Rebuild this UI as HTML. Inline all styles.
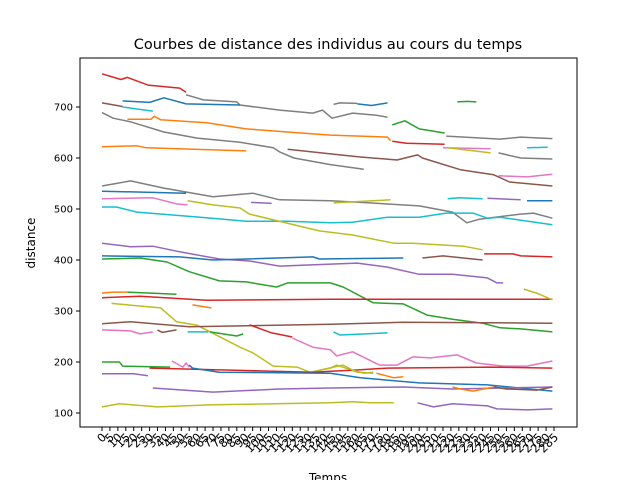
<!DOCTYPE html>
<html><head><meta charset="utf-8"><style>
body{margin:0;background:#fff}
svg text{font-family:"DejaVu Sans","Liberation Sans",sans-serif;fill:#000}
</style></head><body>
<svg id="chart" width="640" height="480" viewBox="0 0 640 480" xmlns="http://www.w3.org/2000/svg">
<rect width="640" height="480" fill="#fff"/>
<text x="328" y="49" font-size="14.5" text-anchor="middle">Courbes de distance des individus au cours du temps</text>
<text x="35" y="243" font-size="12" text-anchor="middle" transform="rotate(-90 35 243)">distance</text>
<text x="328" y="482" font-size="12" text-anchor="middle">Temps</text>
<g id="plot"></g>
<rect x="80" y="58" width="497" height="369" fill="none" stroke="#000" stroke-width="1"/>
<g id="axes"></g>
</svg>
<script>
const yTicks=[100,200,300,400,500,600,700];
const xTicks=[];for(let i=0;i<=285;i+=5)xTicks.push(i);
const seriesColors=["#d62728","#7f7f7f","#1f77b4","#7f7f7f","#1f77b4","#8c564b","#17becf","#7f7f7f","#ff7f0e","#ff7f0e","#8c564b","#2ca02c","#2ca02c","#d62728","#7f7f7f","#e377c2","#bcbd22","#17becf","#7f7f7f","#e377c2","#7f7f7f","#1f77b4","#e377c2","#17becf","#bcbd22","#9467bd","#bcbd22","#17becf","#9467bd","#1f77b4","#9467bd","#1f77b4","#8c564b","#d62728","#2ca02c","#ff7f0e","#2ca02c","#d62728","#bcbd22","#ff7f0e","#bcbd22","#8c564b","#e377c2","#8c564b","#17becf","#2ca02c","#d62728","#e377c2","#17becf","#2ca02c","#d62728","#e377c2","#1f77b4","#9467bd","#bcbd22","#ff7f0e","#9467bd","#ff7f0e","#8c564b","#bcbd22","#9467bd"];
const seriesTimes=[
[0,12,16,29,49,53],[53,64,85,87,112,133,139,145,158,173,180],[13,30,39,53,87],[146,150,161],[161,170,180],[0,13],[13,32],
[0,7,18,39,60,87,108,112,121,144,165],[16,31,33,37,66,91,117,144,180,182],[0,22,28,91],[117,144,163,186,199,202,226,247,257,284],
[183,191,200,216],[224,230,236],[183,192,216],[217,251,264,284],[215,245],[218,245],[268,281],[250,264,284],[250,268,284],
[0,18,39,70,95,112,144,169,200,221,230,238,264,272,284],[0,53],[0,32,47,54],
[0,9,22,62,91,117,144,158,180,200,217,234,243,251,284],[54,70,87,93,137,158,184,196,228,240],[94,107],[146,182],[218,225,240],[243,264],[268,284],
[0,18,32,49,74,93,112,144,161,180,200,221,243,249,253],[0,49,70,133,137,190],[202,215,240],[241,259,264,284],
[0,24,41,55,74,91,110,117,144,152,171,190,205,221,240,251,264,284],[0,7,16],[16,47],[0,24,66,144,284],[266,274,284],[57,69],
[6,37,47,60,87,95,108,123,131,144,148,161,171],[0,18,55,144,190,284],[0,18,24,32],[35,38,47],[54,67],[68,85,89],[93,107,120],
[120,133,144,148,158,175,186,196,207,224,236,253,268,284],[146,150,180],[0,11,13,43],[30,133,144,158,180,245,284],[44,51,53,55],
[55,57,74,144,163,200,243,284],[0,20,29],[137,146,152,158,165,171],[173,184,190],[32,70,112,144,190,221,284],[221,226,234,247],[247,255,274,284],
[0,11,35,70,144,158,169,184],[199,209,221,243,249,268,284]];
const seriesValues=[
[765,754,758,743,737,729],[724,714,710,704,694,688,694,678,688,684,680],[712,709,718,706,704],[705,708,707],[706,703,708],[708,701],[700,692],
[689,678,671,651,639,631,620,612,600,587,578],[676,676,682,675,669,657,651,645,641,634],[622,624,620,614],[617,608,602,596,606,600,577,567,553,545],
[665,673,657,649],[710,711,710],[633,629,627],[643,637,641,638],[620,618],[620,610],[620,621],[610,600,598],[565,563,568],
[545,555,541,524,531,518,516,512,506,494,473,480,490,492,482],[535,531],[520,522,510,508],
[504,504,494,484,476,476,473,474,484,484,492,492,482,484,469],[516,508,502,490,457,449,433,433,427,420],[513,511],[512,518],[520,522,520],[521,518],[516,516],
[433,426,427,416,402,398,388,392,394,386,372,372,365,355,355],[408,406,400,406,402,404],[404,408,400],[412,412,408,406],
[402,404,396,377,359,357,347,355,355,347,316,314,292,284,276,267,265,259],[335,337,337],[337,333],[326,329,321,323,323],[343,335,322],[312,306],
[315,306,279,272,229,218,192,190,180,188,194,180,178],[275,279,269,274,278,276],[263,261,255,259],[263,258,263],[259,259],[259,251,255],[273,257,249],
[247,229,224,212,220,194,194,210,208,214,198,192,192,202],[259,253,257],[200,200,192,190],[188,180,182,184,188,190,188],[202,190,198,190],
[194,188,180,178,169,159,155,143],[177,177,173],[184,190,194,184,178,180],[178,169,171],[149,141,147,149,151,147,151],[151,147,143,151],[151,147,145,151],
[112,118,112,116,120,122,120,120],[120,112,118,114,108,106,108]];
const NS="http://www.w3.org/2000/svg";
function xs(t){return 102+t*(452/285);}
function ys(v){return 413-(v-100)*(306/600);}
const plot=document.getElementById('plot'),axes=document.getElementById('axes');
seriesTimes.forEach((ts,i)=>{
  const vs=seriesValues[i];
  const p=document.createElementNS(NS,'polyline');
  p.setAttribute('points',ts.map((t,j)=>xs(t).toFixed(1)+','+ys(vs[j]).toFixed(1)).join(' '));
  p.setAttribute('fill','none');p.setAttribute('stroke',seriesColors[i]);p.setAttribute('stroke-width','1.5');
  p.setAttribute('stroke-linejoin','round');
  
  
  plot.appendChild(p);
});
yTicks.forEach(v=>{
  const y=ys(v);
  const l=document.createElementNS(NS,'line');
  l.setAttribute('x1',76);l.setAttribute('x2',80);l.setAttribute('y1',y);l.setAttribute('y2',y);l.setAttribute('stroke','#000');
  
  
  axes.appendChild(l);
  const tx=document.createElementNS(NS,'text');
  tx.setAttribute('x',73);tx.setAttribute('y',y+3.5);tx.setAttribute('font-size','10');tx.setAttribute('text-anchor','end');
  tx.textContent=v;
  
  
  axes.appendChild(tx);
});
xTicks.forEach(t=>{
  const x=xs(t);
  const l=document.createElementNS(NS,'line');
  l.setAttribute('x1',x);l.setAttribute('x2',x);l.setAttribute('y1',427);l.setAttribute('y2',431);l.setAttribute('stroke','#000');
  
  
  axes.appendChild(l);
  const tx=document.createElementNS(NS,'text');
  tx.setAttribute('x',x+5);tx.setAttribute('y',438);tx.setAttribute('font-size','11.5');tx.setAttribute('text-anchor','end');
  tx.setAttribute('transform','rotate(-45 '+(x+5)+' 438)');
  tx.textContent=t;
  
  
  axes.appendChild(tx);
});
</script>
</body></html>
